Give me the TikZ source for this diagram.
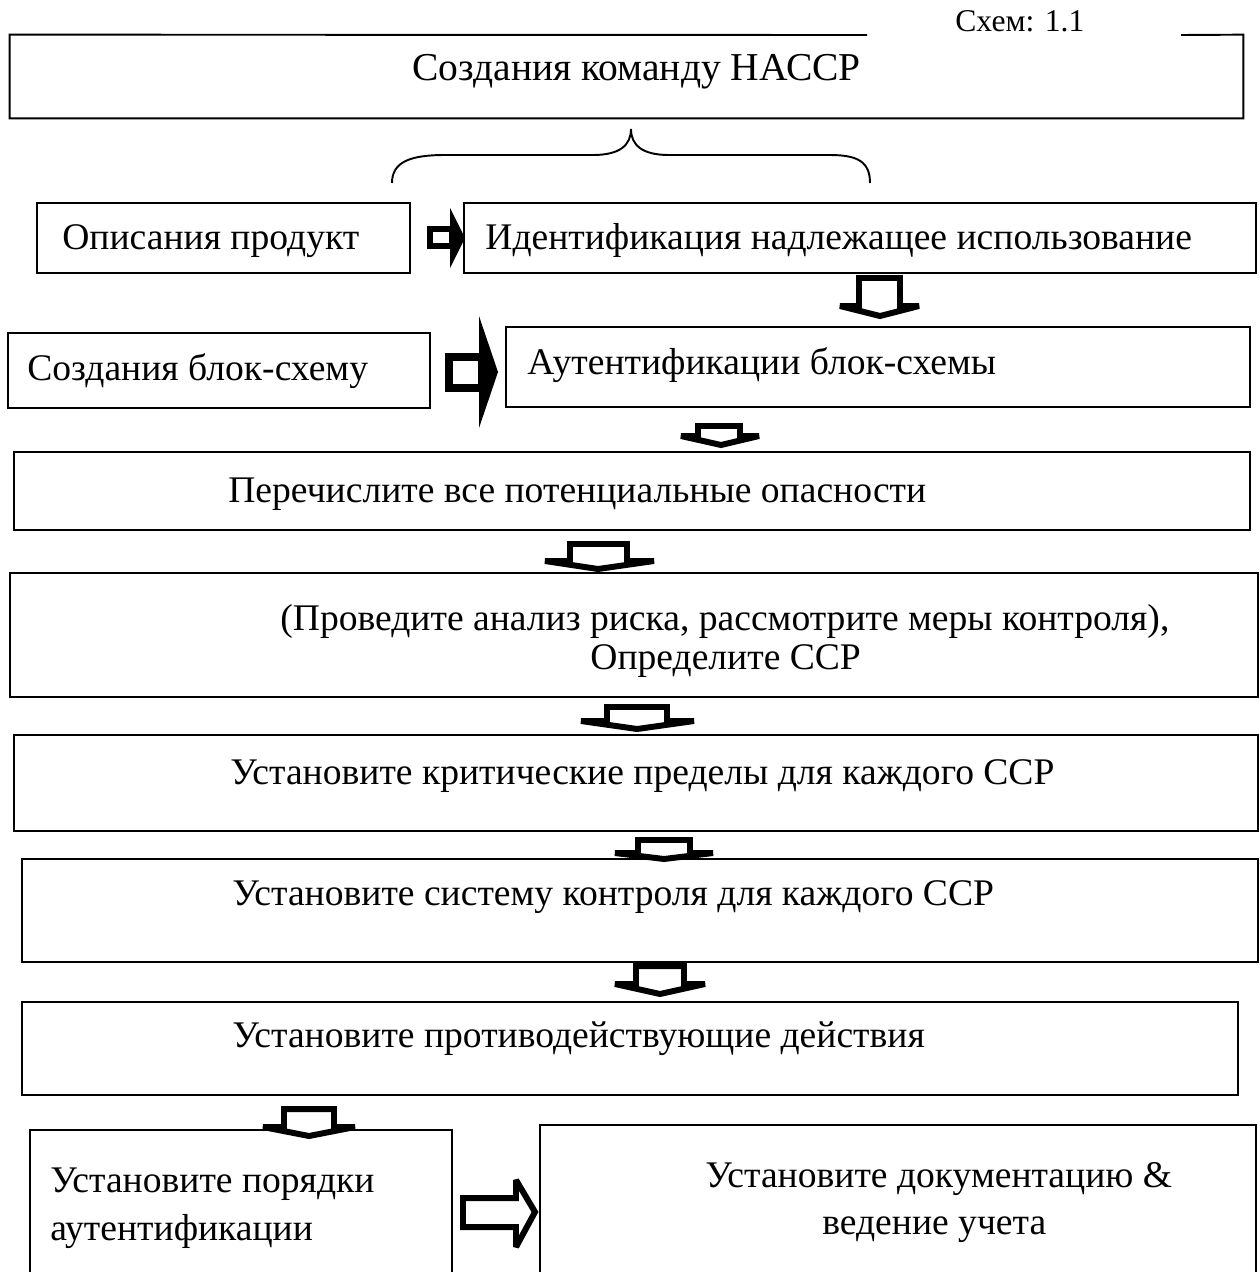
\documentclass[tikz,border=0pt]{standalone}
\usepackage{fontspec}
\setmainfont{Liberation Serif}
\usetikzlibrary{fit}
\tikzset{
  box/.style={draw, line width=1.1pt, inner sep=0pt},
  nobox/.style={inner sep=0pt},
  txt/.style={anchor=base west, inner sep=0pt, font=\fontsize{21.4}{26}\selectfont},
  title/.style={anchor=base west, inner sep=0pt, font=\fontsize{22.5}{27}\selectfont},
  small/.style={anchor=base west, inner sep=0pt, font=\fontsize{18}{21}\selectfont},
  blk/.style={draw, line width=3.4pt, fill=white, miter limit=2},
  head/.style={fill=black},
  brace/.style={line width=1.1pt},
}
\begin{document}
\begin{tikzpicture}[x=0.02cm, y=-0.02cm]
\clip (0,0) rectangle (1260,1272);
\fill[white] (0,0) rectangle (1260,1272);

% top box with gap for the label
\node[nobox, fit={(10,35) (1243,118)}] (b0) {};
\draw[line width=1.1pt] (867,35) -- (b0.north west) -- (b0.south west) -- (b0.south east) -- (b0.north east) -- (1181,35);
\node[small] (lbl) at (955,31) {Схем: 1.1};
\node[title] (t0) at (412,80) {Создания команду НАССР};

% brace
\draw[brace] (392,183) .. controls (392,162) and (410,155) .. (445,155) -- (593,155)
  .. controls (620,155) and (631,145) .. (631,129)
  .. controls (631,145) and (642,155) .. (669,155) -- (830,155)
  .. controls (858,155) and (870,162) .. (870,183);

% boxes
\node[box, fit={(37,203) (410,273)}] (b1) {};
\node[box, fit={(464,203) (1256,273)}] (b2) {};
\node[box, fit={(8,333) (430,408)}] (b3) {};
\node[box, fit={(506,327) (1250,407)}] (b4) {};
\node[box, fit={(14,452) (1250,530)}] (b5) {};
\node[box, fit={(10,573) (1258,697)}] (b6) {};
\node[box, fit={(14,735) (1258,831)}] (b7) {};
\node[box, fit={(22,859) (1258,962)}] (b8) {};
\node[box, fit={(22,1002) (1238,1095)}] (b9) {};
\node[box, fit={(30,1130) (452,1290)}] (b10) {};
\node[box, fit={(540,1125) (1256,1290)}] (b11) {};

% texts
\node[txt] (t1) at (62,249) {Описания продукт};
\node[txt] (t2) at (485,249) {Идентификация надлежащее использование};
\node[txt] (t3) at (27,380) {Создания блок-схему};
\node[txt] (t4) at (527,374) {Аутентификации блок-схемы};
\node[txt] (t5) at (228,502) {Перечислите все потенциальные опасности};
\node[txt] (t6a) at (280,630) {(Проведите анализ риска, рассмотрите меры контроля),};
\node[txt] (t6b) at (590,669) {Определите ССР};
\node[txt] (t7) at (230,784) {Установите критические пределы для каждого ССР};
\node[txt] (t8) at (232,905) {Установите систему контроля для каждого ССР};
\node[txt] (t9) at (232,1047) {Установите противодействующие действия};
\node[txt] (t10a) at (50,1192) {Установите порядки};
\node[txt] (t10b) at (50,1240) {аутентификации};
\node[txt] (t11a) at (705,1187) {Установите документацию \&};
\node[txt] (t11b) at (822,1234) {ведение учета};

% block arrows (right)
\fill[head] (450,208) -- (465,238) -- (450,268) -- cycle;
\draw[blk] (430,229) -- (452,229) -- (452,246) -- (430,246) -- cycle;
\fill[head] (479,316) -- (498,372) -- (479,428) -- cycle;
\draw[blk, line width=4.4pt] (449,357) -- (482,357) -- (482,388) -- (449,388) -- cycle;
\draw[blk] (463,1198) -- (516,1198) -- (516,1180) -- (535,1212) -- (516,1247) -- (516,1227) -- (463,1227) -- cycle;

% block arrows (down)
\draw[blk] (859,278) -- (900,278) -- (900,306) -- (919,306) -- (880,316) -- (840,306) -- (859,306) -- cycle;
\draw[blk] (698,426) -- (740,426) -- (740,436) -- (759,436) -- (721,445) -- (681,436) -- (698,436) -- cycle;
\draw[blk] (570,544) -- (627,544) -- (627,561) -- (654,561) -- (598,569) -- (545,561) -- (570,561) -- cycle;
\draw[blk] (607,707) -- (667,707) -- (667,721) -- (694,721) -- (637,729) -- (581,721) -- (607,721) -- cycle;
\draw[blk] (638,840) -- (690,840) -- (690,853) -- (713,853) -- (664,859) -- (615,853) -- (638,853) -- cycle;
\draw[blk] (636,966) -- (684,966) -- (684,984) -- (705,984) -- (660,994) -- (615,984) -- (636,984) -- cycle;
\draw[blk] (284,1109) -- (334,1109) -- (334,1127) -- (355,1127) -- (309,1136) -- (263,1127) -- (284,1127) -- cycle;
\end{tikzpicture}
\end{document}
